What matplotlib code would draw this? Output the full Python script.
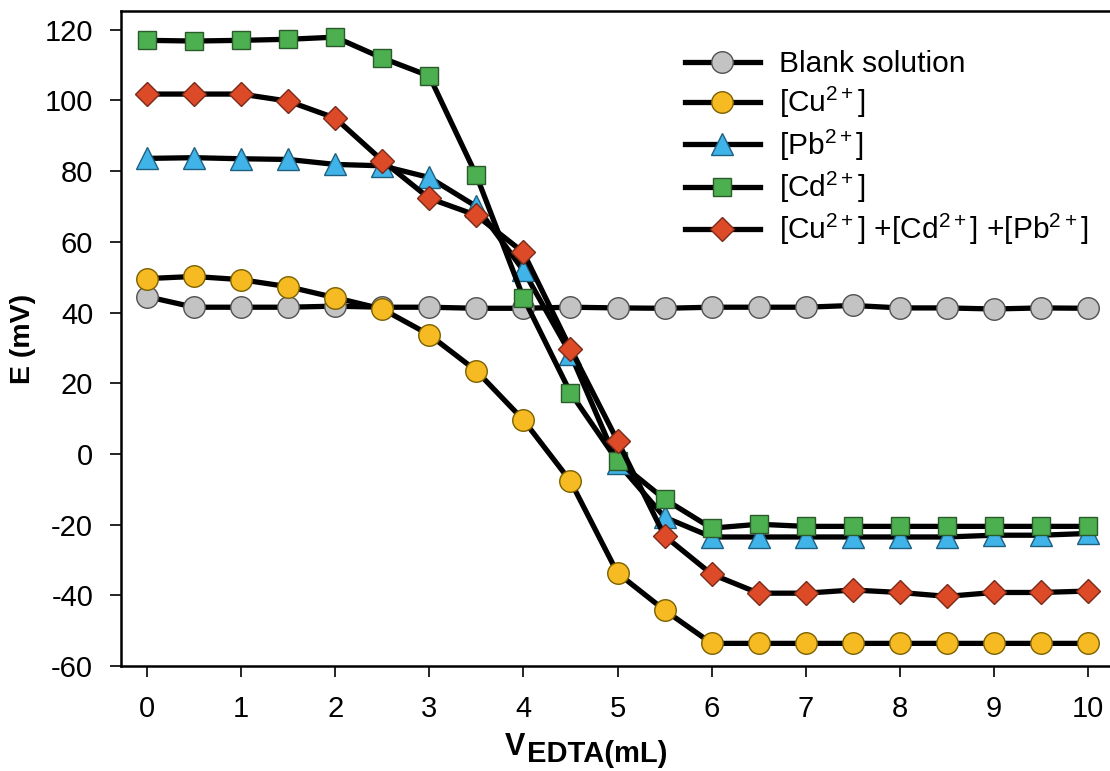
import matplotlib
matplotlib.use("Agg")
import matplotlib.pyplot as plt

plt.rcParams['font.family'] = ['Liberation Sans', 'DejaVu Sans']
plt.rcParams['axes.unicode_minus'] = False
plt.rcParams['mathtext.fontset'] = 'custom'
plt.rcParams['mathtext.rm'] = 'Liberation Sans'
plt.rcParams['mathtext.it'] = 'Liberation Sans'
plt.rcParams['mathtext.bf'] = 'Liberation Sans:bold'

v_edta = [0, 0.5, 1, 1.5, 2, 2.5, 3, 3.5, 4, 4.5, 5, 5.5, 6, 6.5, 7, 7.5, 8, 8.5, 9, 9.5, 10]

blank = [44.5, 41.5, 41.5, 41.5, 41.8, 41.5, 41.5, 41.2, 41.2, 41.5, 41.3, 41.2,
         41.5, 41.5, 41.5, 42.0, 41.3, 41.3, 41.0, 41.3, 41.2]
cu = [49.6, 50.2, 49.3, 47.3, 44.2, 41.0, 33.7, 23.5, 9.6, -7.7, -33.7, -44.2,
      -53.6, -53.6, -53.6, -53.6, -53.6, -53.6, -53.6, -53.6, -53.6]
pb = [83.6, 83.8, 83.5, 83.3, 81.9, 81.5, 78.2, 70.0, 51.9, 28.3, -2.5, -17.9,
      -23.5, -23.5, -23.5, -23.5, -23.5, -23.5, -23.0, -23.0, -22.5]
cd = [117.0, 116.8, 117.0, 117.3, 117.9, 112.0, 106.9, 78.8, 44.2, 17.3, -2.0, -12.8,
      -21.0, -19.9, -20.5, -20.5, -20.5, -20.5, -20.5, -20.5, -20.5]
mix = [101.8, 101.8, 101.8, 99.8, 95.0, 83.0, 72.3, 67.5, 57.0, 29.8, 3.7, -23.2,
       -34.0, -39.4, -39.4, -38.5, -39.2, -40.3, -39.2, -39.2, -38.8]

labels = ['Blank solution', r'[Cu$^{2+}$]', r'[Pb$^{2+}$]', r'[Cd$^{2+}$]',
          r'[Cu$^{2+}$] +[Cd$^{2+}$] +[Pb$^{2+}$]']
x_ticks = [0, 1, 2, 3, 4, 5, 6, 7, 8, 9, 10]
y_ticks = [-60, -40, -20, 0, 20, 40, 60, 80, 100, 120]

W, H = 1110, 771
fig = plt.figure(figsize=(W / 100, H / 100), dpi=100)
ax = fig.add_axes([121 / W, 1 - 666 / H, 1010 / W, (666 - 11) / H])

styles = [
    dict(marker='o', ms=15.5, mfc='#c3c3c3', mec='#505050'),
    dict(marker='o', ms=15.5, mfc='#f6bb22', mec='#7a6000'),
    dict(marker='^', ms=16.5, mfc='#40b4e8', mec='#1f5f80'),
    dict(marker='s', ms=13, mfc='#4caf50', mec='#2b5a2b'),
    dict(marker='D', ms=12, mfc='#dc4a28', mec='#7a2a18'),
]
series = [blank, cu, pb, cd, mix]
for i in range(len(series)):
    ax.plot(v_edta, series[i], color='black', lw=3.8, mew=1.0, label=labels[i],
            zorder=2 + i * 0.1, **styles[i])

px_per_unit = 94.1
x0_px = 147
ax.set_xlim((121 - x0_px) / px_per_unit, (121 + 1010 - x0_px) / px_per_unit)
ax.set_ylim(-60, 125.3)
ax.set_xticks(x_ticks)
ax.set_yticks(y_ticks)
ax.tick_params(axis='both', direction='out', length=8, width=1.2, labelsize=21,
               colors='black')
ax.tick_params(axis='x', pad=13)
ax.tick_params(axis='y', pad=12)
ax.spines['right'].set_visible(False)
for s in ['left', 'bottom', 'top']:
    ax.spines[s].set_linewidth(1.8)

ax.set_ylabel('E (mV)', fontsize=20.5, fontweight='bold', labelpad=6)

fig.text(505 / W, 1 - 755 / H, 'V', fontsize=22, fontweight='bold', va='baseline', ha='left')
fig.text(527 / W, 1 - 762 / H, 'EDTA(mL)', fontsize=21, fontweight='bold', va='baseline', ha='left')

leg = ax.legend(loc='upper left', bbox_to_anchor=((685 - 121) / 1010, (666 - 50) / 655),
                frameon=False, fontsize=21.5, handlelength=2.5, handletextpad=0.65,
                labelspacing=0.24, borderaxespad=0, borderpad=0)

fig.savefig('out.png', dpi=100)
